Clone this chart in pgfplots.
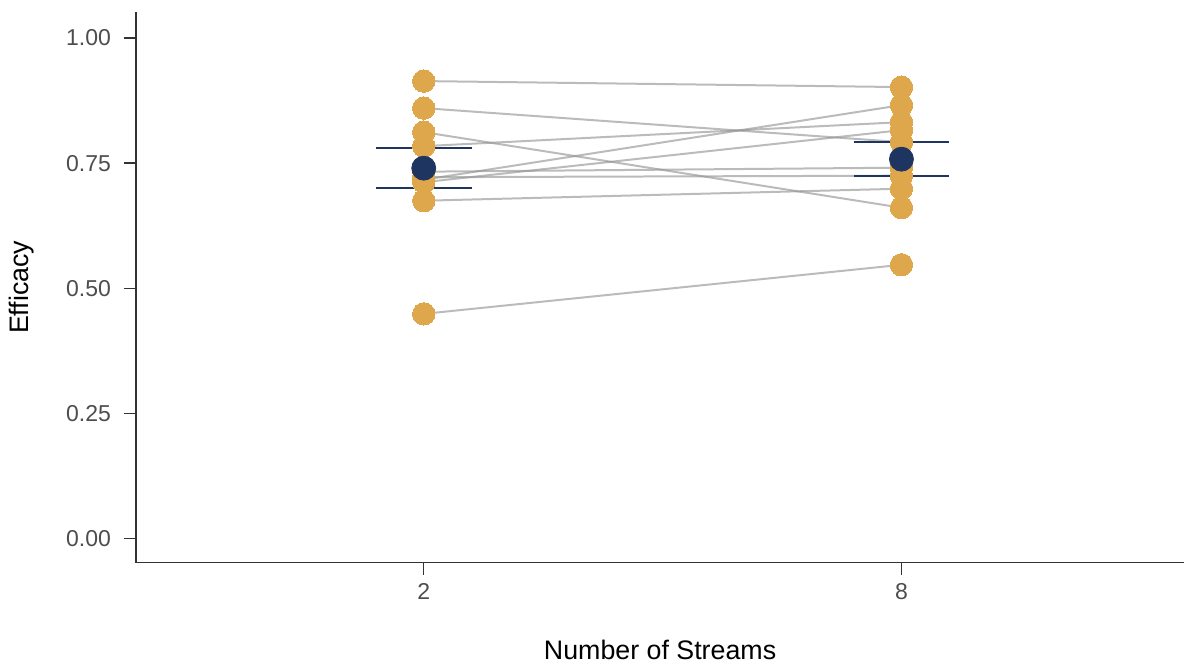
\documentclass[border=0pt]{standalone}
\usepackage{pgfplots}
\pgfplotsset{compat=1.18}
\usepackage{fontspec}
\setmainfont{Liberation Sans}
\definecolor{dotor}{RGB}{222,167,75}
\definecolor{navy}{RGB}{30,53,97}
\definecolor{pairgray}{RGB}{150,150,150}
\definecolor{axgray}{RGB}{51,51,51}
\definecolor{tickgray}{RGB}{77,77,77}
\begin{document}
\begin{tikzpicture}
\begin{axis}[
  scale only axis,
  width=524.5pt, height=275.5pt,
  xmin=0.3975, xmax=2.592,
  ymin=-0.048, ymax=1.052,
  axis x line*=bottom, axis y line*=left,
  axis line style={axgray, line width=0.75pt},
  xtick={1,2}, xticklabels={2,8},
  ytick={0,0.25,0.5,0.75,1},
  yticklabels={0.00,0.25,0.50,0.75,1.00},
  tick style={axgray, line width=0.75pt},
  tick align=outside,
  major tick length=6pt,
  ticklabel style={font=\fontsize{11.5}{13}\selectfont, text=tickgray},
  xticklabel style={yshift=-1pt},
  yticklabel style={xshift=-3pt},
  xlabel={Number of Streams},
  ylabel={Efficacy},
  label style={font=\fontsize{13.4}{15}\selectfont, text=black},
  xlabel style={at={(axis description cs:0.5,-0.158)}, anchor=center},
  ylabel style={at={(axis description cs:-0.1087,0.5)}, anchor=center},
  clip=false,
]
% individual points
\addplot[dotor, only marks, mark=*, mark size=5.6pt, mark options={draw=dotor, fill=dotor, line width=0pt}] coordinates {
 (1,0.914) (1,0.860) (1,0.812) (1,0.784) (1,0.733) (1,0.722) (1,0.717) (1,0.712) (1,0.675) (1,0.449)
 (2,0.902) (2,0.792) (2,0.661) (2,0.832) (2,0.741) (2,0.725) (2,0.866) (2,0.816) (2,0.699) (2,0.547)
};
% paired lines
\pgfplotsset{pair/.style={pairgray, line width=1pt, opacity=0.65, no markers}}
\addplot[pair] coordinates {(1,0.914) (2,0.902)};
\addplot[pair] coordinates {(1,0.860) (2,0.792)};
\addplot[pair] coordinates {(1,0.812) (2,0.661)};
\addplot[pair] coordinates {(1,0.784) (2,0.832)};
\addplot[pair] coordinates {(1,0.733) (2,0.741)};
\addplot[pair] coordinates {(1,0.722) (2,0.725)};
\addplot[pair] coordinates {(1,0.717) (2,0.866)};
\addplot[pair] coordinates {(1,0.712) (2,0.816)};
\addplot[pair] coordinates {(1,0.675) (2,0.699)};
\addplot[pair] coordinates {(1,0.449) (2,0.547)};
% vertical error segments
\addplot[navy, line width=1.1pt, no markers] coordinates {(1,0.700) (1,0.780)};
\addplot[navy, line width=1.1pt, no markers] coordinates {(2,0.724) (2,0.792)};
% caps
\addplot[navy, line width=1.1pt, no markers] coordinates {(0.9,0.780) (1.1,0.780)};
\addplot[navy, line width=1.1pt, no markers] coordinates {(0.9,0.700) (1.1,0.700)};
\addplot[navy, line width=1.1pt, no markers] coordinates {(1.9,0.792) (2.1,0.792)};
\addplot[navy, line width=1.1pt, no markers] coordinates {(1.9,0.724) (2.1,0.724)};
% means
\addplot[navy, only marks, mark=*, mark size=6pt, mark options={fill=navy, draw=navy}]
 coordinates {(1,0.740) (2,0.758)};
\end{axis}
\path ([xshift=-68pt,yshift=-50.5pt]current axis.south west) rectangle ([yshift=6pt]current axis.north east);
\end{tikzpicture}
\end{document}
